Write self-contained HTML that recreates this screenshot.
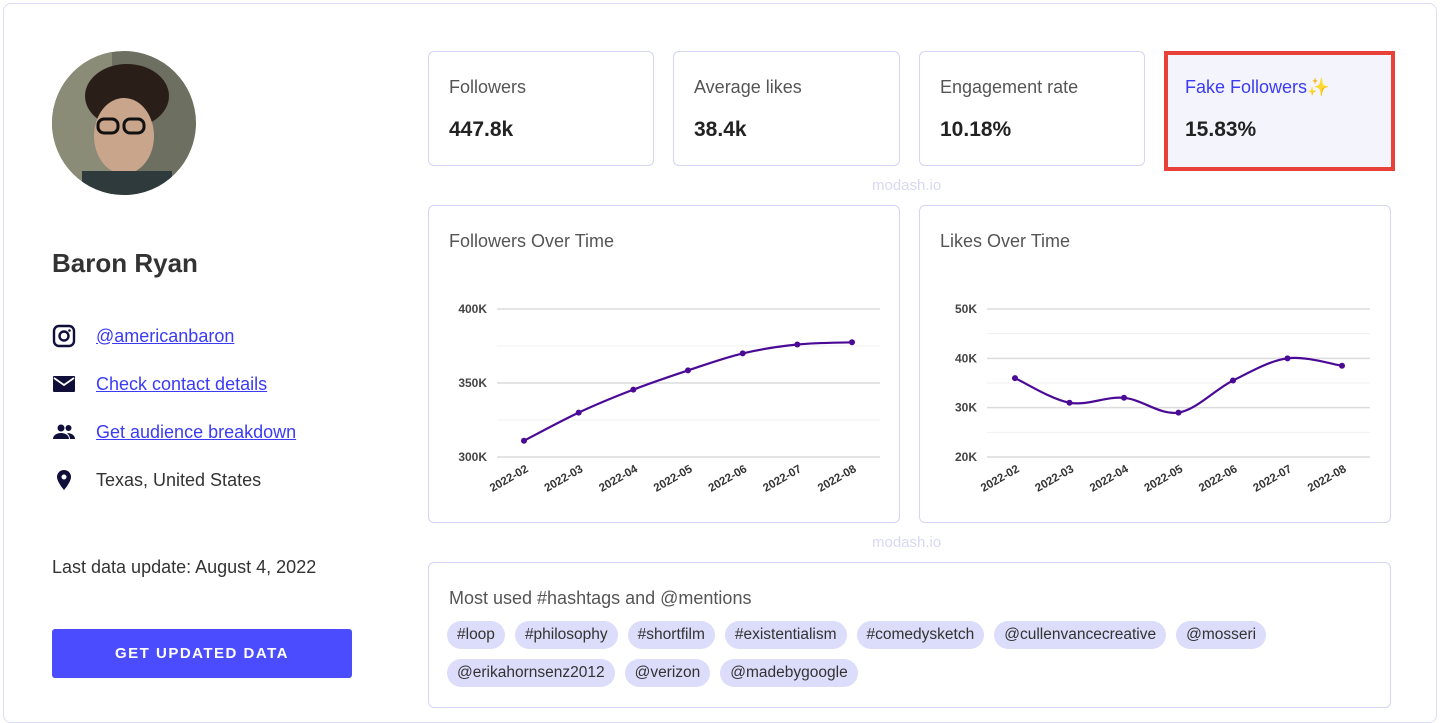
<!DOCTYPE html>
<html><head><meta charset="utf-8"><style>
*{box-sizing:border-box;margin:0;padding:0}
body{width:1440px;height:710px;background:#fff;font-family:"Liberation Sans",sans-serif;color:#333;position:relative;overflow:hidden}
.abs{position:absolute}
.outer{left:3px;top:3px;width:1434px;height:720px;border:1px solid #dcdcf7;border-radius:8px}
.card{position:absolute;border:1px solid #d5d5f5;border-radius:6px;background:#fff}
.lbl{position:absolute;left:20px;top:25px;font-size:18px;color:#555}
.val{position:absolute;left:20px;top:66px;font-size:21px;font-weight:bold;color:#222}
.wm{position:absolute;font-size:15px;color:#d8d8f3}
.link{color:#3b3bf5;text-decoration:underline;font-size:18px}
.row{position:absolute;left:52px;display:flex;align-items:center;font-size:18px}
.row svg{margin-right:20px}
.chips{position:absolute;left:18px;top:58px;width:940px;display:flex;flex-wrap:wrap;gap:10px}
.chip{background:#dcdcfb;border-radius:14px;height:28px;line-height:28px;padding:0 10px;font-size:15.5px;color:#333}
</style></head><body>
<div class="abs outer"></div>

<svg class="abs" style="left:52px;top:51px" width="144" height="144"><defs><clipPath id="c"><circle cx="72" cy="72" r="72"/></clipPath></defs><g clip-path="url(#c)"><rect width="144" height="144" fill="#6d7060"/><rect x="0" y="0" width="60" height="144" fill="#8a8c78"/><ellipse cx="75" cy="45" rx="42" ry="32" fill="#2a1f18"/><ellipse cx="72" cy="85" rx="30" ry="38" fill="#c9a58c"/><rect x="30" y="120" width="90" height="40" fill="#2f3a3c"/><rect x="46" y="68" width="20" height="14" rx="6" fill="none" stroke="#111" stroke-width="3"/><rect x="72" y="68" width="20" height="14" rx="6" fill="none" stroke="#111" stroke-width="3"/></g></svg>

<div class="abs" style="left:52px;top:248px;font-size:26px;font-weight:bold;color:#333">Baron Ryan</div>

<div class="row" style="top:324px"><svg width="24" height="24" viewBox="0 0 24 24"><rect x="2" y="2" width="20" height="20" rx="5" fill="none" stroke="#0f0f3a" stroke-width="2.4"/><circle cx="12" cy="12" r="4.5" fill="none" stroke="#0f0f3a" stroke-width="2.4"/><circle cx="17.5" cy="6.5" r="1.3" fill="#0f0f3a"/></svg><a class="link">@americanbaron</a></div>
<div class="row" style="top:372px"><svg width="24" height="24" viewBox="0 0 24 24"><rect x="1" y="4" width="22" height="16" rx="1" fill="#0f0f3a"/><path d="M2 6l10 7 10-7" fill="none" stroke="#fff" stroke-width="1.8"/></svg><a class="link">Check contact details</a></div>
<div class="row" style="top:420px"><svg width="24" height="24" viewBox="0 0 24 24"><circle cx="9" cy="8" r="3.5" fill="#0f0f3a"/><circle cx="16.5" cy="8" r="3" fill="#0f0f3a"/><path d="M1 19c0-4 4-6 8-6s8 2 8 6z" fill="#0f0f3a"/><path d="M15 13c4 0 8 2 8 6h-5c0-2-1-4-3-6z" fill="#0f0f3a"/></svg><a class="link">Get audience breakdown</a></div>
<div class="row" style="top:468px"><svg width="24" height="24" viewBox="0 0 24 24"><path d="M12 2a7 7 0 0 0-7 7c0 5 7 13 7 13s7-8 7-13a7 7 0 0 0-7-7z" fill="#0f0f3a"/><circle cx="12" cy="9" r="2.5" fill="#fff"/></svg><span style="color:#333">Texas, United States</span></div>

<div class="abs" style="left:52px;top:557px;font-size:18px;color:#333">Last data update: August 4, 2022</div>
<div class="abs" style="left:52px;top:629px;width:300px;height:49px;background:#4c4cff;border-radius:3px;color:#fff;font-weight:bold;font-size:15px;letter-spacing:1.5px;text-align:center;line-height:49px">GET UPDATED DATA</div>

<div class="card" style="left:428px;top:51px;width:226px;height:115px"><div class="lbl">Followers</div><div class="val">447.8k</div></div>
<div class="card" style="left:673px;top:51px;width:227px;height:115px"><div class="lbl">Average likes</div><div class="val">38.4k</div></div>
<div class="card" style="left:919px;top:51px;width:226px;height:115px"><div class="lbl">Engagement rate</div><div class="val">10.18%</div></div>
<div class="card" style="left:1164px;top:51px;width:231px;height:120px;border:4px solid #e8413a;border-radius:0;background:#f4f4fd"><div class="lbl" style="left:17px;top:22px;color:#3b3bf5">Fake Followers<span style="color:#f0c030">✨</span></div><div class="val" style="left:17px;top:63px">15.83%</div></div>
<div class="wm" style="left:872px;top:177px">modash.io</div>

<div class="card" style="left:428px;top:205px;width:472px;height:318px"><div class="lbl" style="top:25px">Followers Over Time</div></div>
<div class="card" style="left:919px;top:205px;width:472px;height:318px"><div class="lbl" style="top:25px">Likes Over Time</div></div>
<svg id="charts" class="abs" style="left:0;top:0" width="1440" height="710"></svg>
<div class="wm" style="left:872px;top:534px">modash.io</div>

<div class="card" style="left:428px;top:562px;width:963px;height:146px"><div class="lbl" style="top:25px">Most used #hashtags and @mentions</div>
<div class="chips">
<span class="chip">#loop</span>
<span class="chip">#philosophy</span>
<span class="chip">#shortfilm</span>
<span class="chip">#existentialism</span>
<span class="chip">#comedysketch</span>
<span class="chip">@cullenvancecreative</span>
<span class="chip">@mosseri</span>
<span class="chip">@erikahornsenz2012</span>
<span class="chip">@verizon</span>
<span class="chip">@madebygoogle</span>
</div></div>

<script>
const months = ["2022-02","2022-03","2022-04","2022-05","2022-06","2022-07","2022-08"];
const followersValues = [311000,330000,345500,358500,370000,376000,377500];
const followersTicks = [300000,350000,400000];
const followersTickLabels = ["300K","350K","400K"];
const likesValues = [36000,31000,32000,29000,35500,40000,38500];
const likesTicks = [20000,30000,40000,50000];
const likesTickLabels = ["20K","30K","40K","50K"];

const NS="http://www.w3.org/2000/svg";
const svg=document.getElementById('charts');
function mk(t,a){const e=document.createElementNS(NS,t);for(const k in a)e.setAttribute(k,a[k]);svg.appendChild(e);return e;}
function draw(o){
  const {x0,x1,gx0,gx1,yTop,yBot,vals,ticks,labels,name}=o;
  const vmin=ticks[0],vmax=ticks[ticks.length-1];
  const y=v=>yBot-(v-vmin)/(vmax-vmin)*(yBot-yTop);
  const x=i=>x0+i*(x1-x0)/(months.length-1);
  for(let i=0;i<ticks.length;i++){
    if(i>0){const m=(ticks[i]+ticks[i-1])/2;const g=mk('line',{x1:gx0,x2:gx1,y1:y(m),y2:y(m),stroke:'#f0f0f0','stroke-width':1});}
    const l=mk('line',{x1:gx0,x2:gx1,y1:y(ticks[i]),y2:y(ticks[i]),stroke:'#dcdcdc','stroke-width':1.5});
    
    
    const t=mk('text',{x:gx0-10,y:y(ticks[i])+4,'text-anchor':'end','font-size':12,'font-weight':'bold',fill:'#444','font-family':'Liberation Sans, sans-serif'});
    t.textContent=labels[i];
    
    
  }
  const pts=vals.map((v,i)=>[x(i),y(v)]);
  let d='M'+pts[0][0]+','+pts[0][1];
  for(let i=0;i<pts.length-1;i++){
    const p0=pts[Math.max(i-1,0)],p1=pts[i],p2=pts[i+1],p3=pts[Math.min(i+2,pts.length-1)];
    const c1=[p1[0]+(p2[0]-p0[0])/6,p1[1]+(p2[1]-p0[1])/6],c2=[p2[0]-(p3[0]-p1[0])/6,p2[1]-(p3[1]-p1[1])/6];
    d+=' C'+c1+' '+c2+' '+p2;
  }
  const ln=mk('path',{d:d,fill:'none',stroke:'#4b0a96','stroke-width':2.2});
  
  
  pts.forEach((p,i)=>{
    const c=mk('circle',{cx:p[0],cy:p[1],r:3,fill:'#4b0a96'});
    
    
    const tx=p[0]+5,ty=yBot+14;
    const t=mk('text',{x:tx,y:ty,'text-anchor':'end','font-size':11.5,'font-weight':'bold',fill:'#333','font-family':'Liberation Sans, sans-serif',transform:'rotate(-30 '+tx+' '+ty+')'});
    t.textContent=months[i];
    
    
  });
}
draw({x0:524,x1:852,gx0:497,gx1:880,yTop:309,yBot:457,vals:followersValues,ticks:followersTicks,labels:followersTickLabels,name:'followers'});
draw({x0:1015,x1:1342,gx0:987,gx1:1370,yTop:309,yBot:457,vals:likesValues,ticks:likesTicks,labels:likesTickLabels,name:'likes'});
</script>
</body></html>
